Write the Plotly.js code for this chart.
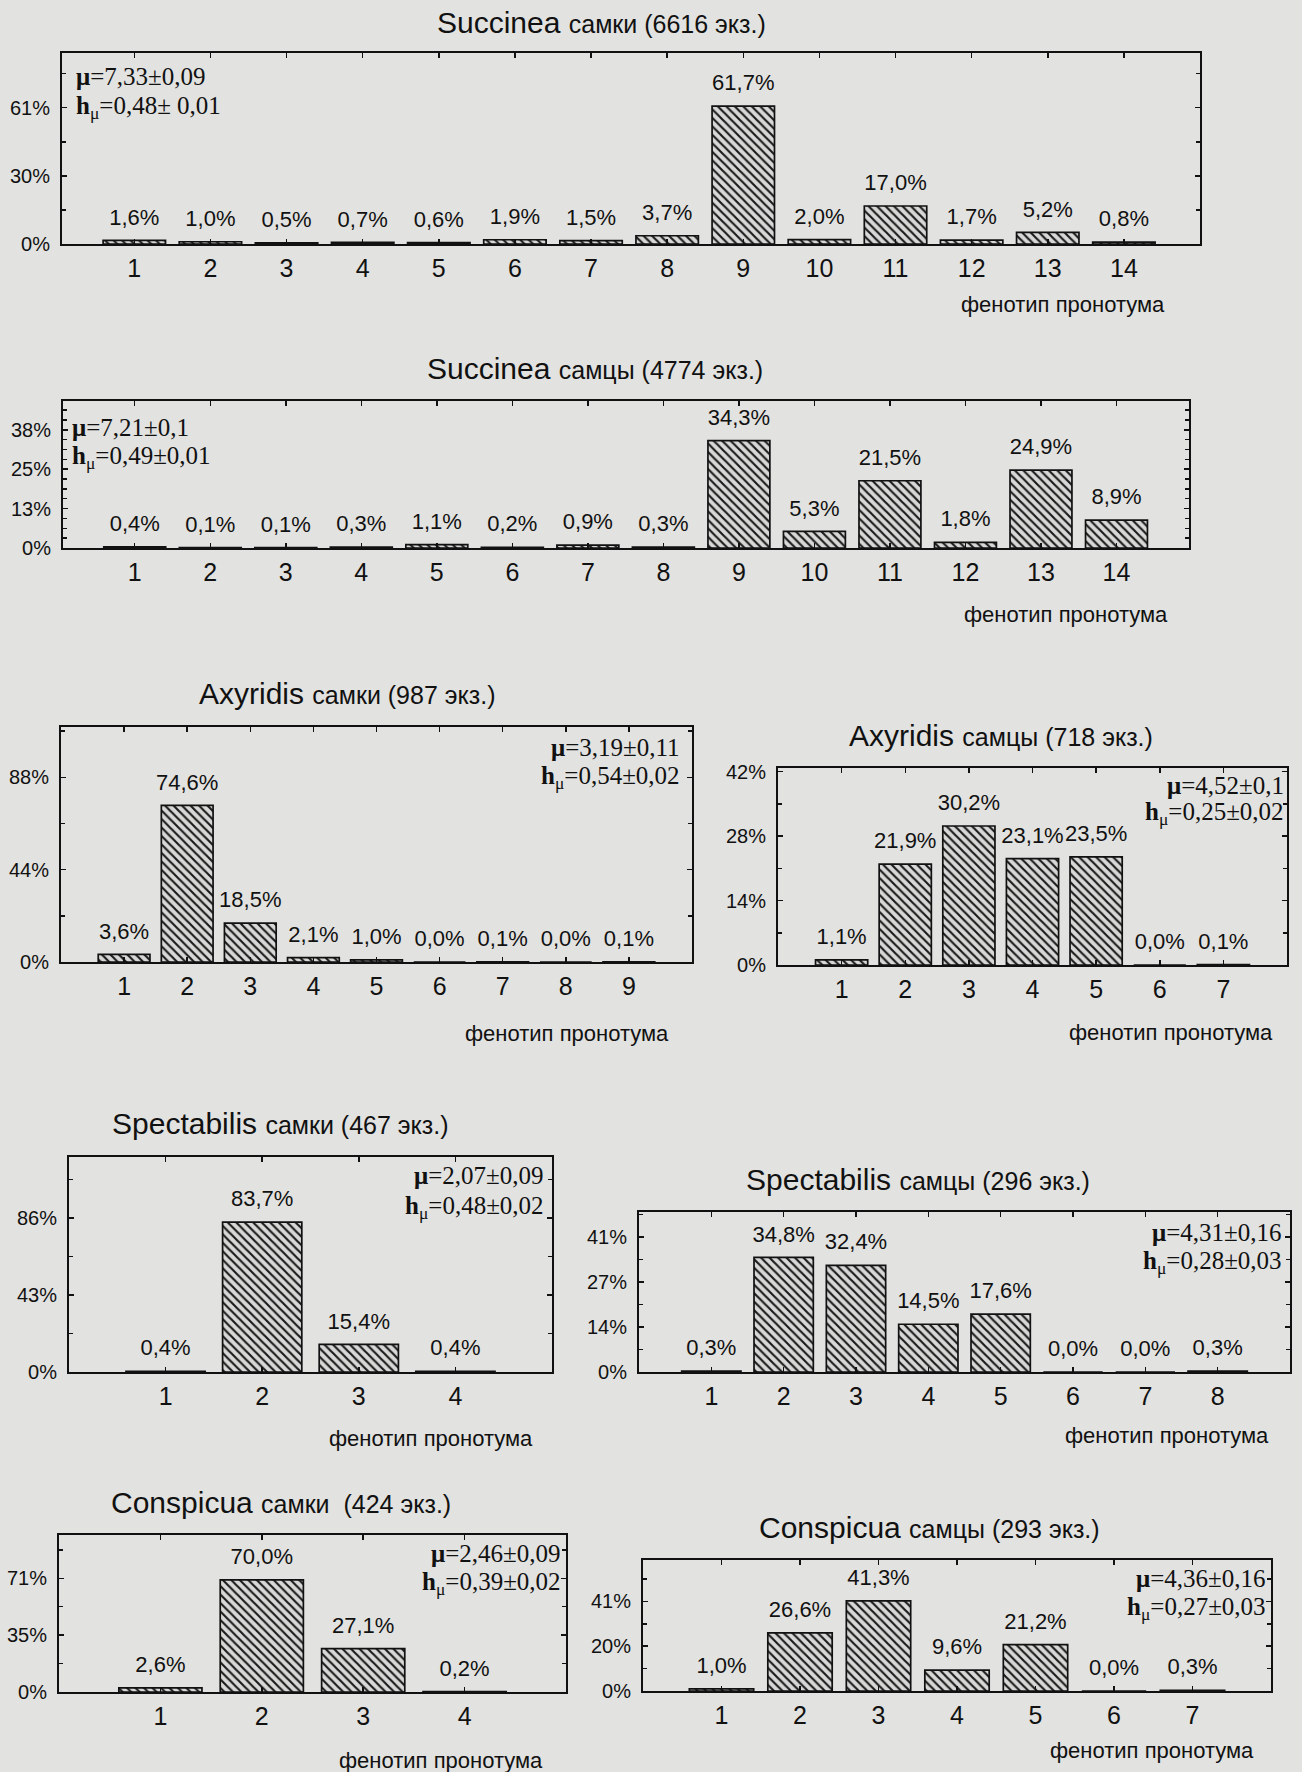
<!DOCTYPE html>
<html>
<head>
<meta charset="utf-8">
<script src="https://cdn.plot.ly/plotly-3.0.1.min.js"></script>
<style>html,body{margin:0;padding:0;background:#e2e2e0;}#chart{width:1302px;height:1772px;}</style>
</head>
<body>
<div id="chart"></div>
<script>
// ---------- DATA ----------
const succFemCats = [1,2,3,4,5,6,7,8,9,10,11,12,13,14];
const succFemVals = [1.6,1.0,0.5,0.7,0.6,1.9,1.5,3.7,61.7,2.0,17.0,1.7,5.2,0.8];
const succFemYTicks = [0,30.5,61];
const succFemYText = ['0%','30%','61%'];

const succMalCats = [1,2,3,4,5,6,7,8,9,10,11,12,13,14];
const succMalVals = [0.4,0.1,0.1,0.3,1.1,0.2,0.9,0.3,34.3,5.3,21.5,1.8,24.9,8.9];
const succMalYTicks = [0,12.6,25.2,37.8];
const succMalYText = ['0%','13%','25%','38%'];

const axyFemCats = [1,2,3,4,5,6,7,8,9];
const axyFemVals = [3.6,74.6,18.5,2.1,1.0,0.0,0.1,0.0,0.1];
const axyFemYTicks = [0,44,88];
const axyFemYText = ['0%','44%','88%'];

const axyMalCats = [1,2,3,4,5,6,7];
const axyMalVals = [1.1,21.9,30.2,23.1,23.5,0.0,0.1];
const axyMalYTicks = [0,14,28,42];
const axyMalYText = ['0%','14%','28%','42%'];

const specFemCats = [1,2,3,4];
const specFemVals = [0.4,83.7,15.4,0.4];
const specFemYTicks = [0,43,86];
const specFemYText = ['0%','43%','86%'];

const specMalCats = [1,2,3,4,5,6,7,8];
const specMalVals = [0.3,34.8,32.4,14.5,17.6,0.0,0.0,0.3];
const specMalYTicks = [0,13.7,27.3,41];
const specMalYText = ['0%','14%','27%','41%'];

const consFemCats = [1,2,3,4];
const consFemVals = [2.6,70.0,27.1,0.2];
const consFemYTicks = [0,35.5,71];
const consFemYText = ['0%','35%','71%'];

const consMalCats = [1,2,3,4,5,6,7];
const consMalVals = [1.0,26.6,41.3,9.6,21.2,0.0,0.3];
const consMalYTicks = [0,20.5,41];
const consMalYText = ['0%','20%','41%'];

const titles = [
  ['Succinea','самки (6616 экз.)'],
  ['Succinea','самцы (4774 экз.)'],
  ['Axyridis','самки (987 экз.)'],
  ['Axyridis','самцы (718 экз.)'],
  ['Spectabilis','самки (467 экз.)'],
  ['Spectabilis','самцы (296 экз.)'],
  ['Conspicua','самки  (424 экз.)'],
  ['Conspicua','самцы (293 экз.)']
];
const muTexts = ['7,33±0,09','7,21±0,1','3,19±0,11','4,52±0,1','2,07±0,09','4,31±0,16','2,46±0,09','4,36±0,16'];
const hTexts  = ['0,48± 0,01','0,49±0,01','0,54±0,02','0,25±0,02','0,48±0,02','0,28±0,03','0,39±0,02','0,27±0,03'];
const xAxisLabel = 'фенотип пронотума';

// ---------- LAYOUT GEOMETRY (pixels) ----------
const W = 1302, H = 1772;
const panels = [
  {cats:succFemCats, vals:succFemVals, yt:succFemYTicks, ytt:succFemYText, box:[62,1200,53,244], xr:[0.05,15], yr:85.5, minor:15.25,
   title:[601,23], xl:[1063,305], ann:{x:74, align:'left', mu:77, h:108}},
  {cats:succMalCats, vals:succMalVals, yt:succMalYTicks, ytt:succMalYText, box:[63,1189,401,548], xr:[0.05,14.96], yr:47, minor:3.15,
   title:[595,368], xl:[1066,614], ann:{x:70, align:'left', mu:427, h:457}},
  {cats:axyFemCats, vals:axyFemVals, yt:axyFemYTicks, ytt:axyFemYText, box:[61,692,727,962], xr:[0,10], yr:112, minor:22,
   title:[347,693], xl:[567,1033], ann:{x:682, align:'right', mu:747, h:777}},
  {cats:axyMalCats, vals:axyMalVals, yt:axyMalYTicks, ytt:axyMalYText, box:[778,1287,768,965], xr:[0,8], yr:42.8, minor:7,
   title:[1001,735], xl:[1171,1032], ann:{x:1286, align:'right', mu:785, h:813}},
  {cats:specFemCats, vals:specFemVals, yt:specFemYTicks, ytt:specFemYText, box:[69,552,1157,1372], xr:[0,5], yr:120, minor:21.5,
   title:[280,1123], xl:[431,1438], ann:{x:546, align:'right', mu:1175, h:1207}},
  {cats:specMalCats, vals:specMalVals, yt:specMalYTicks, ytt:specMalYText, box:[639,1290,1212,1372], xr:[0,9], yr:48.6, minor:6.83,
   title:[918,1179], xl:[1167,1435], ann:{x:1284, align:'right', mu:1232, h:1262}},
  {cats:consFemCats, vals:consFemVals, yt:consFemYTicks, ytt:consFemYText, box:[59,566,1535,1692], xr:[0,5], yr:98, minor:17.75,
   title:[281,1502], xl:[441,1760], ann:{x:563, align:'right', mu:1553, h:1583}},
  {cats:consMalCats, vals:consMalVals, yt:consMalYTicks, ytt:consMalYText, box:[643,1271,1560,1691], xr:[0,8], yr:60, minor:10.25,
   title:[929,1527], xl:[1152,1750], ann:{x:1268, align:'right', mu:1578, h:1608}}
];

const SANS = 'Liberation Sans, Arial, sans-serif';
const SERIF = 'Liberation Serif, Times New Roman, serif';
const BG = '#e2e2e0';
const px = x => x / W;
const py = y => 1 - y / H;

const data = [];
const layout = {
  width: W, height: H,
  margin: {l:0, r:0, t:0, b:0},
  paper_bgcolor: BG, plot_bgcolor: BG,
  showlegend: false,
  font: {family: SANS, color: '#111'},
  annotations: []
};

panels.forEach((p, i) => {
  const n = i === 0 ? '' : String(i + 1);
  const xk = 'x' + n, yk = 'y' + n;
  data.push({
    type: 'bar', x: p.cats, y: p.vals, xaxis: xk, yaxis: yk, width: 0.82,
    marker: {color: '#d6d6d4', line: {color: '#111', width: 1.7},
             pattern: {shape: '\\', fgcolor: '#1a1a1a', bgcolor: '#d8d8d6', size: 6, solidity: 0.36}},
    hoverinfo: 'none'
  });
  // value labels, positioned through the axes above each bar
  data.push({
    type: 'scatter', mode: 'markers+text', x: p.cats, y: p.vals, xaxis: xk, yaxis: yk,
    marker: {size: 15, opacity: 0},
    text: p.vals.map(v => v.toFixed(1).replace('.', ',') + '%'),
    textposition: 'top center', cliponaxis: false,
    textfont: {family: SANS, size: 22, color: '#111'},
    hoverinfo: 'none'
  });
  const common = {
    showline: true, linewidth: 2, linecolor: '#111', mirror: 'ticks',
    ticks: 'inside', ticklen: 5, tickwidth: 1.5, tickcolor: '#111',
    showgrid: false, zeroline: false, fixedrange: true
  };
  layout['xaxis' + n] = Object.assign({}, common, {
    domain: [px(p.box[0]), px(p.box[1])], range: p.xr, anchor: yk,
    tickmode: 'array', tickvals: p.cats, ticktext: p.cats.map(String),
    tickfont: {family: SANS, size: 25, color: '#111'}, ticklabelstandoff: 1
  });
  layout['yaxis' + n] = Object.assign({}, common, {
    domain: [py(p.box[3]), py(p.box[2])], range: [0, p.yr], anchor: xk,
    tickmode: 'array', tickvals: p.yt, ticktext: p.ytt,
    tickfont: {family: SANS, size: 20, color: '#111'}, ticklabelstandoff: 6,
    minor: {ticks: 'inside', ticklen: 4, tickcolor: '#111', dtick: p.minor, tick0: 0, showgrid: false}
  });
  const t = titles[i];
  layout.annotations.push({
    xref: 'paper', yref: 'paper', x: px(p.title[0]), y: py(p.title[1]),
    xanchor: 'center', yanchor: 'middle', showarrow: false,
    text: t[0] + ' <span style="font-size:25px">' + t[1] + '</span>',
    font: {family: SANS, size: 30, color: '#111'}
  });
  layout.annotations.push({
    xref: 'paper', yref: 'paper', x: px(p.xl[0]), y: py(p.xl[1]),
    xanchor: 'center', yanchor: 'middle', showarrow: false,
    text: xAxisLabel, font: {family: SANS, size: 22, color: '#111'}
  });
  const xa = p.ann.align === 'left' ? 'left' : 'right';
  layout.annotations.push({
    xref: 'paper', yref: 'paper', x: px(p.ann.x), y: py(p.ann.mu),
    xanchor: xa, yanchor: 'middle', showarrow: false,
    text: '<b>μ</b>=' + muTexts[i], font: {family: SERIF, size: 25, color: '#111'}
  });
  layout.annotations.push({
    xref: 'paper', yref: 'paper', x: px(p.ann.x), y: py(p.ann.h),
    xanchor: xa, yanchor: 'middle', showarrow: false,
    text: '<b>h</b><sub>μ</sub>=' + hTexts[i], font: {family: SERIF, size: 25, color: '#111'}
  });
});

Plotly.newPlot('chart', data, layout, {staticPlot: true, displayModeBar: false});
</script>
</body>
</html>
